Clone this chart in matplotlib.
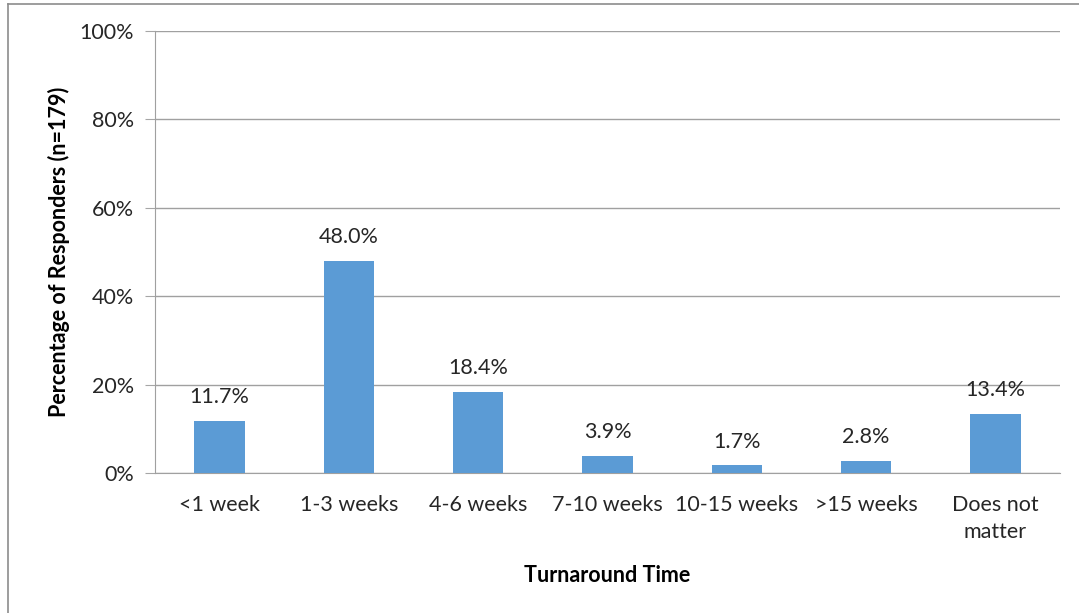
import matplotlib
matplotlib.use("Agg")
import matplotlib.pyplot as plt

categories = ["<1 week", "1-3 weeks", "4-6 weeks", "7-10 weeks",
              "10-15 weeks", ">15 weeks", "Does not\nmatter"]
percentages = [11.7, 48.0, 18.4, 3.9, 1.7, 2.8, 13.4]
y_ticks = [0, 20, 40, 60, 80, 100]
y_tick_labels = ["0%", "20%", "40%", "60%", "80%", "100%"]

plt.rcParams["font.family"] = ["Lato", "DejaVu Sans"]
FS = 15.5

W, H = 1079, 613
fig = plt.figure(figsize=(W / 100, H / 100), dpi=100)

# outer chart frame (left and top edges visible)
fig.add_artist(plt.Line2D([8 / W, 8 / W], [0, 1 - 4 / H], transform=fig.transFigure,
                          color="#8c8c8c", lw=1.2))
fig.add_artist(plt.Line2D([8 / W, 1], [1 - 4 / H, 1 - 4 / H], transform=fig.transFigure,
                          color="#8c8c8c", lw=1.2))

left, right, top, bottom = 155, 1060, 31, 473
ax = fig.add_axes([left / W, 1 - bottom / H, (right - left) / W, (bottom - top) / H])

x = range(len(categories))
ax.bar(x, percentages, width=0.39, color="#5b9bd5", zorder=3)

for xi, v in zip(x, percentages):
    ax.annotate(f"{v:.1f}%", (xi, v), xytext=(0, 10), textcoords="offset points",
                ha="center", va="bottom", fontsize=FS, color="#262626")

ax.set_xlim(-0.5, len(categories) - 0.5)
ax.set_ylim(0, 100)
ax.set_yticks(y_ticks)
ax.set_yticklabels(y_tick_labels, fontsize=FS, color="#262626")
ax.set_xticks(list(x))
ax.set_xticklabels(categories, fontsize=FS, color="#262626", linespacing=1.45)
ax.tick_params(axis="x", length=0, pad=16)
ax.tick_params(axis="y", length=7, color="#a6a6a6", pad=8)

ax.grid(axis="y", color="#a0a0a0", lw=1.0, zorder=0)
for side in ["top", "right"]:
    ax.spines[side].set_visible(False)
ax.spines["left"].set_color("#a0a0a0")
ax.spines["bottom"].set_color("#a0a0a0")

ax.set_ylabel("Percentage of Responders (n=179)", fontsize=FS, fontweight="bold",
              color="#000000", labelpad=7)
ax.set_xlabel("Turnaround Time", fontsize=FS, fontweight="bold", color="#000000",
              labelpad=16)

fig.savefig("out.png", dpi=100)
